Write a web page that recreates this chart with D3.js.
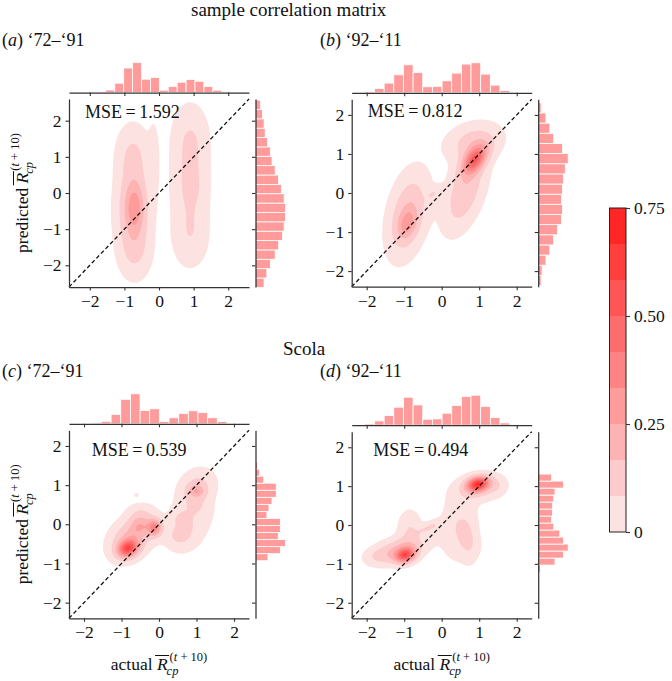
<!DOCTYPE html>
<html>
<head>
<meta charset="utf-8">
<script src="https://cdn.jsdelivr.net/npm/d3@7"></script>
<style>
  body { margin: 0; background: #fff; }
  text { font-family: "Liberation Serif", "Times New Roman", serif; fill: #111; }
</style>
</head>
<body>
<svg id="fig" width="672" height="681"></svg>
<script>
// ---- data ----
const rowTitles = ["sample correlation matrix", "Scola"];
const panelLetters = ["a", "b", "c", "d"];
const periods = ["\u201872\u2013\u201891", "\u201892\u2013\u201811", "\u201872\u2013\u201891", "\u201892\u2013\u201811"];
const mseValues = [1.592, 0.812, 0.539, 0.494];
const axisLimits = [2.6, 2.4, 2.4, 2.4];
const axisTicks = [-2, -1, 0, 1, 2];

// marginal histogram of actual values (shared by the two rows)
const actualBinStart = -2.05;
const actualBinWidth = 0.2575;
const actualCounts7291 = [7, 10, 25, 93, 245, 300, 133, 150, 23, 60, 103, 130, 113, 60, 23, 7];
const actualCounts9211 = [13, 43, 97, 180, 280, 203, 60, 63, 120, 197, 287, 300, 187, 77, 23];

// marginal histograms of predicted values, bins listed bottom -> top
const predBinStart = [-2.61, -2.37, -0.93, -1.21];
const predBinWidth = [0.259, 0.26, 0.18, 0.18];
const predCountsA = [25, 33, 43, 57, 67, 78, 83, 87, 87, 83, 75, 67, 57, 48, 43, 35, 28, 25, 20, 15];
const predCountsB = [3, 4, 8, 12, 16, 20, 24, 25, 24, 25, 26, 28, 31, 25, 16, 12, 8, 3];
const predCountsC = [12, 24, 29, 22, 24, 24, 11, 13, 16, 20, 20, 8, 4, 2];
const predCountsD = [2, 14, 21, 25, 21, 18, 13, 11, 12, 12, 13, 14, 21, 11];

// density estimates, as gaussian pieces: [mx, my, sx, sy, rho, weight]
const kdeA = [
  [-0.75, 1.00, 0.30, 0.55, 0.00, 0.10],
  [-0.75, -0.45, 0.31, 0.70, 0.00, 0.22],
  [-0.70, -1.60, 0.30, 0.50, 0.00, 0.08],
  [-0.70, -0.40, 0.18, 0.45, 0.00, 0.08],
  [-0.15, 0.90, 0.10, 0.70, 0.00, 0.02],
  [0.90, 1.50, 0.33, 0.60, 0.00, 0.10],
  [0.90, 0.20, 0.33, 0.70, 0.00, 0.14],
  [0.90, -1.20, 0.33, 0.55, 0.00, 0.08],
  [0.95, 0.20, 0.12, 0.20, 0.00, 0.004]
];
const kdeB = [
  [0.85, 1.30, 0.45, 0.30, 0.20, 0.10],
  [0.62, 0.05, 0.35, 0.62, 0.50, 0.18],
  [0.88, 0.85, 0.22, 0.25, 0.50, 0.13],
  [-0.90, -0.55, 0.33, 0.65, 0.35, 0.22],
  [-0.92, -0.80, 0.17, 0.25, 0.30, 0.04],
  [-0.22, -0.02, 0.13, 0.13, 0.50, 0.006]
];
const kdeC = [
  [-0.83, -0.62, 0.18, 0.15, 0.20, 0.08],
  [-0.75, -0.35, 0.35, 0.33, 0.30, 0.13],
  [-0.50, -0.02, 0.18, 0.18, 0.00, 0.03],
  [-0.12, -0.08, 0.13, 0.15, 0.00, 0.04],
  [-0.45, 0.32, 0.25, 0.15, 0.00, 0.012],
  [-0.60, 0.75, 0.035, 0.035, 0.00, 0.0005],
  [1.00, 0.90, 0.30, 0.30, 0.20, 0.07],
  [1.00, 0.85, 0.14, 0.10, 0.00, 0.012],
  [0.90, 0.40, 0.30, 0.20, 0.00, 0.012],
  [0.65, -0.15, 0.33, 0.33, 0.10, 0.07],
  [0.55, -0.30, 0.12, 0.10, 0.00, 0.005],
  [0.60, 0.15, 0.12, 0.10, 0.00, 0.004],
  [1.20, 0.30, 0.20, 0.30, 0.00, 0.01]
];
const kdeD = [
  [-0.97, -0.78, 0.18, 0.13, 0.20, 0.07],
  [-1.15, -0.65, 0.45, 0.22, 0.45, 0.10],
  [-0.85, -0.10, 0.20, 0.30, 0.00, 0.03],
  [-0.30, -0.05, 0.22, 0.12, 0.60, 0.012],
  [-1.70, -0.80, 0.20, 0.12, 0.00, 0.006],
  [0.97, 1.05, 0.20, 0.13, 0.20, 0.095],
  [1.00, 0.95, 0.42, 0.22, 0.20, 0.06],
  [0.42, 0.00, 0.28, 0.50, 0.15, 0.07],
  [0.75, -0.30, 0.15, 0.45, 0.00, 0.02],
  [0.70, -0.55, 0.25, 0.25, 0.00, 0.015],
  [1.50, 1.00, 0.12, 0.15, 0.00, 0.004]
];

const densityLevels = [0.02, 1/12, 2/12, 3/12, 4/12, 5/12, 6/12, 7/12, 8/12];
const colorbarEdges = [0, 1/12, 2/12, 3/12, 4/12, 5/12, 6/12, 7/12, 8/12, 9/12];
const colorbarTicks = [0, 0.25, 0.5, 0.75];

// ---- layout ----
const frames = [
  { left: 69, top: 99, w: 180, h: 188, mse: [16, 19] },
  { left: 351.7, top: 99.3, w: 180, h: 187.4, mse: [16, 18] },
  { left: 69, top: 430.3, w: 180, h: 188, mse: [22.7, 26] },
  { left: 351.7, top: 431.7, w: 180, h: 186.6, mse: [21.6, 24.3] }
];
const actualCounts = [actualCounts7291, actualCounts9211, actualCounts7291, actualCounts9211];
const predCounts = [predCountsA, predCountsB, predCountsC, predCountsD];
const kdes = [kdeA, kdeB, kdeC, kdeD];

const bandColors = d3.quantize(d3.interpolateRgb("#fde2e2", "#ff2626"), 9);
const histFill = "#ff9b9b";
const spine = "#333";
const margGap = 6.5, margSize = 31.5;

const svg = d3.select("#fig");

function gauss(x, y, c) {
  const [mx, my, sx, sy, r, w] = c;
  const dx = (x - mx) / sx, dy = (y - my) / sy;
  const q = (dx * dx - 2 * r * dx * dy + dy * dy) / (1 - r * r);
  return w / (2 * Math.PI * sx * sy * Math.sqrt(1 - r * r)) * Math.exp(-q / 2);
}

function styleAxis(g) {
  g.attr("font-family", null).attr("font-size", null);
  g.selectAll("path.domain").attr("stroke", spine).attr("stroke-width", 1.25);
  g.selectAll(".tick line").attr("stroke", spine).attr("stroke-width", 1.1);
  g.selectAll(".tick text").attr("font-size", 17.5).attr("fill", "#111");
}

// math label "<prefix> R̄ (t+10) cp"
function mathLabel(parent, prefix, cx, cy, rotate) {
  const grp = parent.append("g")
    .attr("transform", `translate(${cx},${cy})` + (rotate ? " rotate(-90)" : ""));
  const inner = grp.append("g");
  const t = inner.append("text").attr("font-size", 17.5);
  t.append("tspan").text(prefix + " ");
  const wPre = t.node().getComputedTextLength();
  t.append("tspan").attr("font-style", "italic").text("R");
  const w = t.node().getComputedTextLength();
  inner.append("line")
    .attr("x1", wPre + 2.5).attr("x2", w + 1.5)
    .attr("y1", -14.5).attr("y2", -14.5)
    .attr("stroke", "#111").attr("stroke-width", 1);
  const sup = inner.append("text").attr("font-size", 12.5).attr("x", w + 2).attr("y", -9);
  sup.append("tspan").text("(");
  sup.append("tspan").attr("font-style", "italic").text("t");
  sup.append("tspan").text(" + 10)");
  const sub = inner.append("text").attr("font-size", 12.5).attr("font-style", "italic")
    .attr("x", w - 1).attr("y", 5).text("cp");
  const total = Math.max(w + 2 + sup.node().getComputedTextLength(), w - 1 + sub.node().getComputedTextLength());
  inner.attr("transform", `translate(${-total / 2},0)`);
}

// ---- titles ----
svg.append("text").attr("x", 191).attr("y", 16).attr("font-size", 19).text(rowTitles[0]);
svg.append("text").attr("x", 283).attr("y", 355).attr("font-size", 19).text(rowTitles[1]);

const intFmt = d3.format("d");

frames.forEach((f, i) => {
  const lim = axisLimits[i];
  const x = d3.scaleLinear().domain([-lim, lim]).range([f.left, f.left + f.w]);
  const y = d3.scaleLinear().domain([-lim, lim]).range([f.top + f.h, f.top]);
  const g = svg.append("g");

  // panel label
  const col = i % 2, row = Math.floor(i / 2);
  const lab = g.append("text")
    .attr("x", col === 0 ? 2 : 320).attr("y", row === 0 ? 45.7 : 376.7)
    .attr("font-size", 18);
  lab.append("tspan").text("(");
  lab.append("tspan").attr("font-style", "italic").text(panelLetters[i]);
  lab.append("tspan").text(") " + periods[i]);

  // density contours
  const n = 140;
  const dx = (2 * lim) / n;
  const vals = new Float64Array(n * n);
  for (let j = 0; j < n; j++) {
    const yy = -lim + (j + 0.5) * dx;
    for (let k = 0; k < n; k++) {
      const xx = -lim + (k + 0.5) * dx;
      let s = 0;
      for (const c of kdes[i]) s += gauss(xx, yy, c);
      vals[j * n + k] = s;
    }
  }
  const contours = d3.contours().size([n, n]).thresholds(densityLevels)(vals);
  const proj = d3.geoTransform({
    point: function (px, py) { this.stream.point(x(-lim + px * dx), y(-lim + py * dx)); }
  });
  const path = d3.geoPath(proj);
  const clipId = "clip" + i;
  svg.append("clipPath").attr("id", clipId)
    .append("rect").attr("x", f.left).attr("y", f.top).attr("width", f.w).attr("height", f.h);
  g.append("g").attr("clip-path", `url(#${clipId})`)
    .selectAll("path").data(contours).join("path")
    .attr("d", path)
    .attr("fill", (d, k) => bandColors[k])
    .attr("stroke", "none");

  // diagonal
  g.append("line")
    .attr("x1", x(-lim)).attr("y1", y(-lim)).attr("x2", x(lim)).attr("y2", y(lim))
    .attr("stroke", "#111").attr("stroke-width", 1.3).attr("stroke-dasharray", "4,2.6");

  // axes
  g.append("g").attr("transform", `translate(0,${f.top + f.h})`)
    .call(d3.axisBottom(x).tickValues(axisTicks).tickFormat(intFmt).tickSize(3.5).tickSizeOuter(0).tickPadding(4))
    .call(styleAxis);
  g.append("g").attr("transform", `translate(${f.left},0)`)
    .call(d3.axisLeft(y).tickValues(axisTicks).tickFormat(intFmt).tickSize(3.5).tickSizeOuter(0).tickPadding(4))
    .call(styleAxis);

  // MSE text
  g.append("text").attr("x", f.left + f.mse[0]).attr("y", f.top + f.mse[1])
    .attr("font-size", 18).text("MSE\u2009=\u2009" + d3.format(".3f")(mseValues[i]));

  // top marginal histogram
  const base = f.top - margGap;
  const ac = actualCounts[i];
  const hy = d3.scaleLinear().domain([0, d3.max(ac) * 1.05]).range([base, base - margSize]);
  g.append("g").selectAll("rect").data(ac).join("rect")
    .attr("x", (d, k) => x(actualBinStart + k * actualBinWidth))
    .attr("width", (d, k) => x(actualBinStart + (k + 1) * actualBinWidth) - x(actualBinStart + k * actualBinWidth))
    .attr("y", d => hy(d))
    .attr("height", d => base - hy(d))
    .attr("fill", histFill).attr("stroke", "#fff").attr("stroke-width", 0.8);
  g.append("g").attr("transform", `translate(0,${base})`)
    .call(d3.axisBottom(x).tickValues(axisTicks).tickSize(3.5).tickSizeOuter(0).tickFormat(""))
    .call(styleAxis);

  // right marginal histogram
  const sx0 = f.left + f.w + margGap;
  const pc = predCounts[i], ps = predBinStart[i], pw = predBinWidth[i];
  const hx = d3.scaleLinear().domain([0, d3.max(pc) * 1.05]).range([sx0, sx0 + margSize]);
  g.append("g").selectAll("rect").data(pc).join("rect")
    .attr("x", sx0)
    .attr("y", (d, k) => y(ps + (k + 1) * pw))
    .attr("height", (d, k) => y(ps + k * pw) - y(ps + (k + 1) * pw))
    .attr("width", d => hx(d) - sx0)
    .attr("fill", histFill).attr("stroke", "#fff").attr("stroke-width", 0.8);
  g.append("g").attr("transform", `translate(${sx0},0)`)
    .call(d3.axisLeft(y).tickValues(axisTicks).tickSize(3.5).tickSizeOuter(0).tickFormat(""))
    .call(styleAxis);

  // axis labels
  if (col === 0) mathLabel(svg, "predicted", 28, f.top + f.h / 2, true);
  if (row === 1) mathLabel(svg, "actual", f.left + f.w / 2, 670, false);
});

// ---- colorbar ----
const cbX = 609.5, cbW = 16.5;
const cbY = d3.scaleLinear().domain([0, 0.75]).range([532, 208]);
svg.append("g").selectAll("rect").data(bandColors).join("rect")
  .attr("x", cbX).attr("width", cbW)
  .attr("y", (d, k) => cbY(colorbarEdges[k + 1]))
  .attr("height", (d, k) => cbY(colorbarEdges[k]) - cbY(colorbarEdges[k + 1]))
  .attr("fill", d => d);
svg.append("rect").attr("x", cbX).attr("y", cbY(0.75)).attr("width", cbW)
  .attr("height", cbY(0) - cbY(0.75)).attr("fill", "none").attr("stroke", "#222").attr("stroke-width", 1);
svg.append("g").attr("transform", `translate(${cbX + cbW},0)`)
  .call(d3.axisRight(cbY).tickValues(colorbarTicks).tickSize(4).tickPadding(4)
    .tickFormat(d => d === 0 ? "0" : d3.format(".2f")(d)))
  .call(g => g.select("path.domain").remove())
  .call(styleAxis);
</script>
</body>
</html>
